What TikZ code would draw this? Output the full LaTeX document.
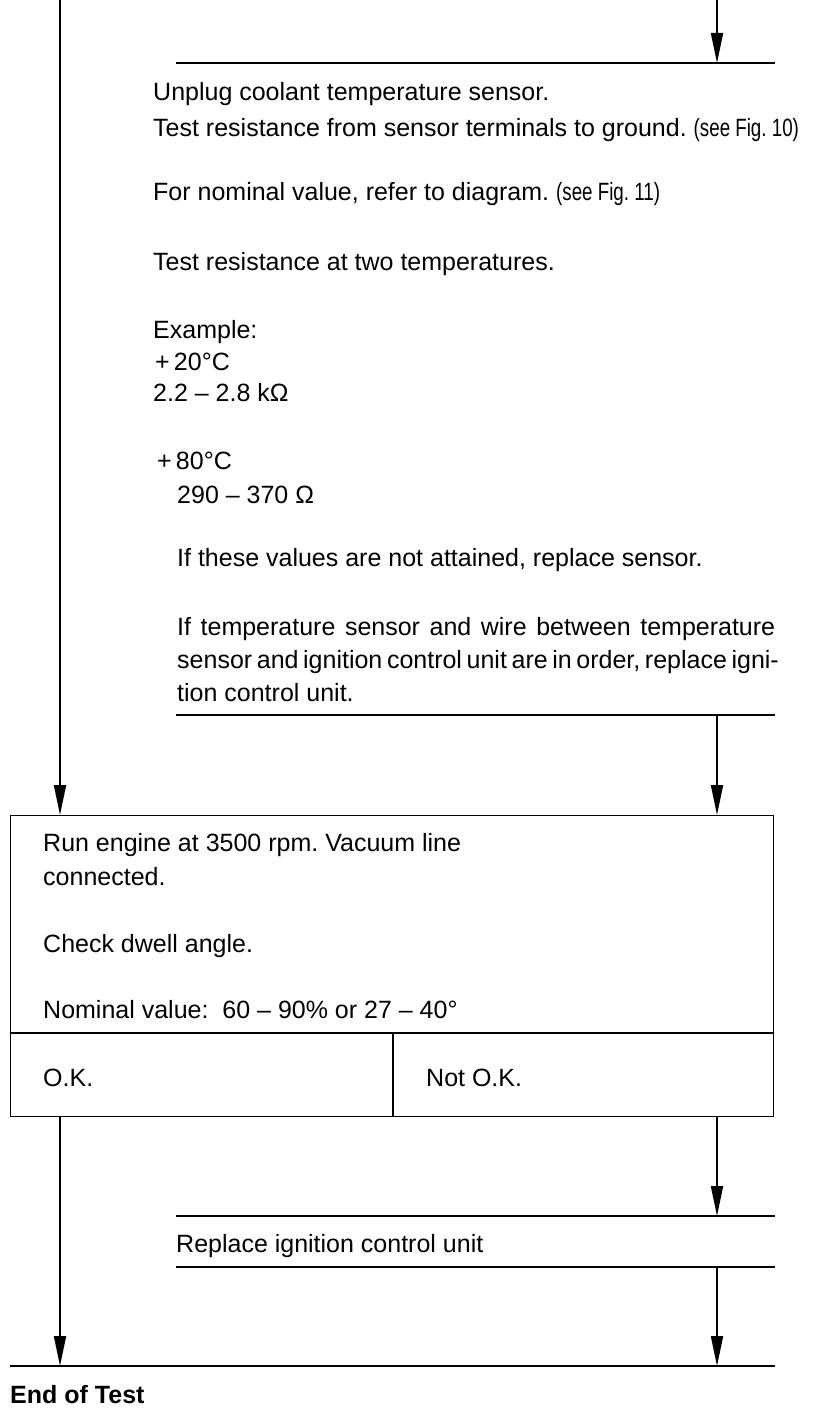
\documentclass[tikz,border=0pt]{standalone}
\usepackage{fontspec}
\setmainfont{Liberation Sans}
\newfontfamily\narrowfont[FakeStretch=0.75]{Liberation Sans}
\usetikzlibrary{arrows.meta}
\begin{document}
\frenchspacing
\begin{tikzpicture}[x=1pt,y=-1pt,
  txt/.style={anchor=base west, inner sep=0pt, font=\fontsize{25}{30}\selectfont},
  ln/.style={line width=1.6pt},
  arr/.style={line width=1.9pt, -{Triangle[length=30pt,width=12pt]}}]
\useasboundingbox (0,0) rectangle (816,1410);

% coordinates
\coordinate (topL) at (60,0);
\coordinate (topR) at (717,0);
\coordinate (l1a) at (176,63);
\coordinate (l1b) at (775,63);
\coordinate (l2a) at (176,715);
\coordinate (l2b) at (775,715);
\coordinate (l3a) at (176,1216);
\coordinate (l3b) at (775,1216);
\coordinate (l4a) at (176,1267);
\coordinate (l4b) at (775,1267);
\coordinate (l5a) at (10,1366);
\coordinate (l5b) at (775,1366);

% first block text
\node[txt] (t1) at (153,101) {Unplug coolant temperature sensor.};
\node[txt] (t2) at (153,136) {Test resistance from sensor terminals to ground. {\narrowfont (see Fig.~10)}};
\node[txt] (t3) at (153,200) {For nominal value, refer to diagram. {\narrowfont (see Fig.~11)}};
\node[txt] (t4) at (153,270) {Test resistance at two temperatures.};
\node[txt] (t5) at (153,338) {Example:};
\node[txt] (t6) at (155,370) {+\,20°C};
\node[txt] (t7) at (153,401) {2.2 – 2.8 kΩ};
\node[txt] (t8) at (157,469) {+\,80°C};
\node[txt] (t9) at (177,503) {290 – 370 Ω};
\node[txt] (t10) at (177,566) {If these values are not attained, replace sensor.};
\node[txt] (t11) at (177,635) {\makebox[598pt][s]{If temperature sensor and wire between temperature}};
\node[txt] (t12) at (177,668) {\makebox[598pt][s]{sensor and ignition control unit are in order, replace igni-}};
\node[txt] (t13) at (177,701) {tion control unit.};

% box
\node[draw, line width=1.4pt, minimum width=763pt, minimum height=301pt,
      anchor=north west, inner sep=0pt] (box) at (10,815) {};
\coordinate (div) at (10,1033);
\coordinate (vdiv) at (393,1033);
\draw[line width=1.4pt] (div) -- (div -| box.east);
\draw[line width=1.4pt] (vdiv) -- (vdiv |- box.south);
\node[txt] (b1) at (43,851) {Run engine at 3500 rpm. Vacuum line};
\node[txt] (b2) at (43,885) {connected.};
\node[txt] (b3) at (43,952) {Check dwell angle.};
\node[txt] (b4) at (43,1018) {Nominal value:\ \ 60 – 90\% or 27 – 40°};
\node[txt] (ok) at (43,1086) {O.K.};
\node[txt] (nok) at (426,1086) {Not O.K.};

\node[txt] (rep) at (176,1252) {Replace ignition control unit};
\node[txt, font=\fontsize{25}{30}\selectfont\bfseries] (end) at (10,1403) {End of Test};

% lines
\draw[ln] (l1a) -- (l1b);
\draw[ln] (l2a) -- (l2b);
\draw[ln] (l3a) -- (l3b);
\draw[ln] (l4a) -- (l4b);
\draw[ln] (l5a) -- (l5b);

% arrows
\draw[arr] (topR) -- (topR |- l1a);
\draw[arr] (topL) -- (topL |- box.north);
\draw[arr] (l2a -| topR) -- (topR |- box.north);
\draw[arr] (topR |- box.south) -- (topR |- l3a);
\draw[arr] (topR |- l4a) -- (topR |- l5a);
\draw[arr] (topL |- box.south) -- (topL |- l5a);
\end{tikzpicture}
\end{document}
